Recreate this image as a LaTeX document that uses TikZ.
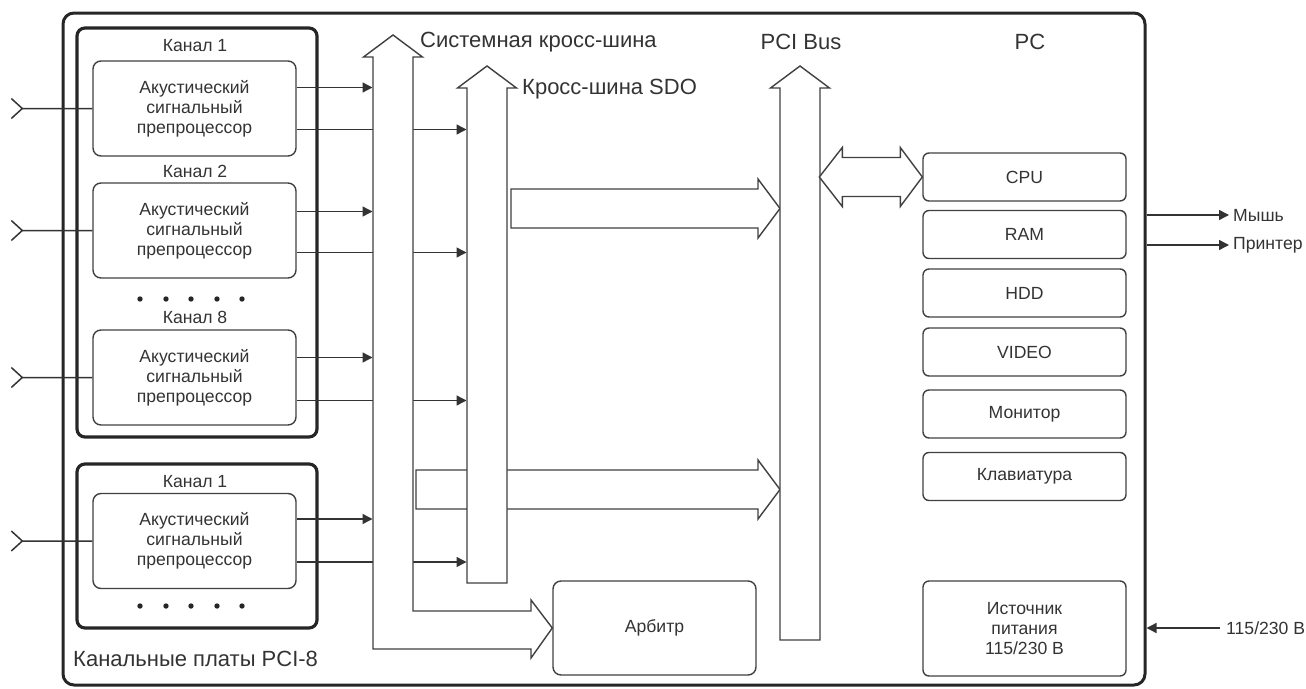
\documentclass[tikz,border=0pt]{standalone}
\usepackage{fontspec}
\setmainfont{Liberation Sans}
\usetikzlibrary{arrows.meta}

\begin{document}
\begin{tikzpicture}[x=1pt, y=-1pt,
  every node/.style={text=black!80},
  pcframe/.style={draw=black!85, line width=3pt, rounded corners=11pt},
  board/.style={draw=black!85, line width=3.2pt, rounded corners=8pt, minimum width=240pt},
  proc/.style={draw=black!75, line width=1.4pt, rounded corners=8pt, minimum width=203pt, minimum height=95pt, align=center, font=\fontsize{17.6}{20}\selectfont},
  pcunit/.style={draw=black!75, line width=1.4pt, rounded corners=6pt, minimum width=203pt, minimum height=48pt, align=center, font=\fontsize{17.6}{20}\selectfont},
  bus/.style={draw=black!75, line width=1.4pt, fill=white, line join=miter},
  sig/.style={draw=black!80, line width=1.4pt, -{Triangle[length=10pt, width=10pt]}},
  lbl/.style={inner sep=0pt, font=\fontsize{17.6}{20}\selectfont},
  buslbl/.style={inner sep=0pt, font=\fontsize{22}{24}\selectfont}
]

\useasboundingbox ( 0, 0 ) rectangle ( 1306, 688 );

% PC case
\node [pcframe, minimum width=1082pt, minimum height=672pt] (pc) at ( 604, 349 ) {};

% Channel boards
\node [board, minimum height=409pt] (board1) at ( 197, 232.5 ) {};
\node [board, minimum height=164pt] (board2) at ( 197, 546 ) {};

% Preprocessors
\node [proc] (p1) at ( 194.5, 108.5 ) {Акустический\\сигнальный\\препроцессор};
\node [proc] (p2) at ( 194.5, 230.5 ) {Акустический\\сигнальный\\препроцессор};
\node [proc] (p8) at ( 194.5, 377.5 ) {Акустический\\сигнальный\\препроцессор};
\node [proc] (q1) at ( 194.5, 541 ) {Акустический\\сигнальный\\препроцессор};

% Channel labels
\node [lbl] (ch1) at ( 195, 46 ) {Канал 1};
\node [lbl] (ch2) at ( 195, 171 ) {Канал 2};
\node [lbl] (ch8) at ( 195, 317 ) {Канал 8};
\node [lbl] (chb) at ( 195, 482 ) {Канал 1};

% Dots
\fill [black!85] ( 140, 299 ) circle ( 2.7pt ) ( 166, 299 ) circle ( 2.7pt ) ( 191, 299 ) circle ( 2.7pt ) ( 217, 299 ) circle ( 2.7pt ) ( 242, 299 ) circle ( 2.7pt );
\fill [black!85] ( 140, 606 ) circle ( 2.7pt ) ( 166, 606 ) circle ( 2.7pt ) ( 191, 606 ) circle ( 2.7pt ) ( 217, 606 ) circle ( 2.7pt ) ( 242, 606 ) circle ( 2.7pt );

\node [buslbl, anchor=west] (boards) at ( 73, 659 ) {Канальные платы PCI-8};

% Inputs
\draw [black!80, line width=1.5pt] (p1.west) -- ++( -70, 0 ) coordinate (in1) ++( -11, -10 ) -- (in1) -- ++( -11, 10 );
\draw [black!80, line width=1.5pt] (p2.west) -- ++( -70, 0 ) coordinate (in2) ++( -11, -10 ) -- (in2) -- ++( -11, 10 );
\draw [black!80, line width=1.5pt] (p8.west) -- ++( -70, 0 ) coordinate (in8) ++( -11, -10 ) -- (in8) -- ++( -11, 10 );
\draw [black!80, line width=1.5pt] (q1.west) -- ++( -70, 0 ) coordinate (inb) ++( -11, -10 ) -- (inb) -- ++( -11, 10 );

% Outputs to the buses
\coordinate (sysin) at ( 372.5, 0 );
\coordinate (sdoin) at ( 466.5, 0 );
\draw [sig] ([yshift=21pt]p1.east) -- ([yshift=21pt]p1.east -| sysin);
\draw [sig] ([yshift=-21pt]p1.east) -- ([yshift=-21pt]p1.east -| sdoin);
\draw [sig] ([yshift=19pt]p2.east) -- ([yshift=19pt]p2.east -| sysin);
\draw [sig] ([yshift=-22pt]p2.east) -- ([yshift=-22pt]p2.east -| sdoin);
\draw [sig] ([yshift=20pt]p8.east) -- ([yshift=20pt]p8.east -| sysin);
\draw [sig] ([yshift=-23pt]p8.east) -- ([yshift=-23pt]p8.east -| sdoin);
\draw [sig] ([yshift=22pt]q1.east) -- ([yshift=22pt]q1.east -| sysin);
\draw [sig] ([yshift=-21pt]q1.east) -- ([yshift=-21pt]q1.east -| sdoin);

% Arbiter
\node [pcunit, rounded corners=8pt, minimum height=94pt] (arb) at ( 654.5, 628 ) {Арбитр};

% System bus
\draw [bus] ( 393, 35 ) -- ( 422.5, 57 ) -- ( 413, 57 ) -- ( 413, 611 ) -- ( 531, 611 ) -- ( 531, 600 ) -- (arb.west) -- ( 531, 658 ) -- ( 531, 649 ) -- ( 373, 649 ) -- ( 373, 57 ) -- ( 363.5, 57 ) -- cycle;
\node [buslbl, anchor=west] (syslbl) at ( 420, 42 ) {Системная кросс-шина};

% System bus to PCI
\draw [bus] ( 416, 470 ) -- ( 758, 470 ) -- ( 758, 460 ) -- ( 780, 489.5 ) -- ( 758, 519 ) -- ( 758, 509 ) -- ( 416, 509 ) -- cycle;

% SDO bus
\draw [bus] ( 487, 66 ) -- ( 516.5, 88 ) -- ( 507, 88 ) -- ( 507, 583 ) -- ( 467, 583 ) -- ( 467, 88 ) -- ( 457.5, 88 ) -- cycle;
\node [buslbl, anchor=west] (sdolbl) at ( 522, 89 ) {Кросс-шина SDO};

% SDO bus to PCI
\draw [bus] ( 511, 189 ) -- ( 758, 189 ) -- ( 758, 179 ) -- ( 780, 208.5 ) -- ( 758, 238 ) -- ( 758, 228 ) -- ( 511, 228 ) -- cycle;

% PCI bus
\draw [bus] ( 800, 66 ) -- ( 829.5, 88 ) -- ( 820, 88 ) -- ( 820, 640 ) -- ( 780, 640 ) -- ( 780, 88 ) -- ( 770.5, 88 ) -- cycle;
\node [buslbl] (pcilbl) at ( 801, 42 ) {PCI Bus};

% PC units
\node [buslbl] (pclbl) at ( 1030, 42 ) {PC};
\node [pcunit] (cpu) at ( 1024.5, 177 ) {CPU};
\node [pcunit] (ram) at ( 1024.5, 234.5 ) {RAM};
\node [pcunit] (hdd) at ( 1024.5, 293 ) {HDD};
\node [pcunit] (video) at ( 1024.5, 352 ) {VIDEO};
\node [pcunit] (mon) at ( 1024.5, 414 ) {Монитор};
\node [pcunit] (kbd) at ( 1024.5, 476.5 ) {Клавиатура};
\node [pcunit, minimum height=95pt] (psu) at ( 1024.5, 628.5 ) {Источник\\питания\\115/230 В};

% PCI <-> CPU
\draw [bus] (cpu.west) -- ++( -22, -29.5 ) -- ++( 0, 10 ) -- ++( -58, 0 ) -- ++( 0, -10 ) -- ++( -23, 29.5 ) -- ++( 23, 29.5 ) -- ++( 0, -10 ) -- ++( 58, 0 ) -- ++( 0, 10 ) -- cycle;

% Peripherals and mains
\node [lbl, anchor=west] (mouse) at ( 1233, 215 ) {Мышь};
\node [lbl, anchor=west] (printer) at ( 1233, 245 ) {Принтер};
\node [lbl, anchor=west] (mains) at ( 1226, 628 ) {115/230 В};
\draw [sig] (mouse.west -| pc.east) -- ([xshift=-4pt]mouse.west);
\draw [sig] (printer.west -| pc.east) -- ([xshift=-4pt]printer.west);
\draw [sig] ([xshift=-6pt]mains.west) -- (mains.west -| pc.east);

\end{tikzpicture}
\end{document}
